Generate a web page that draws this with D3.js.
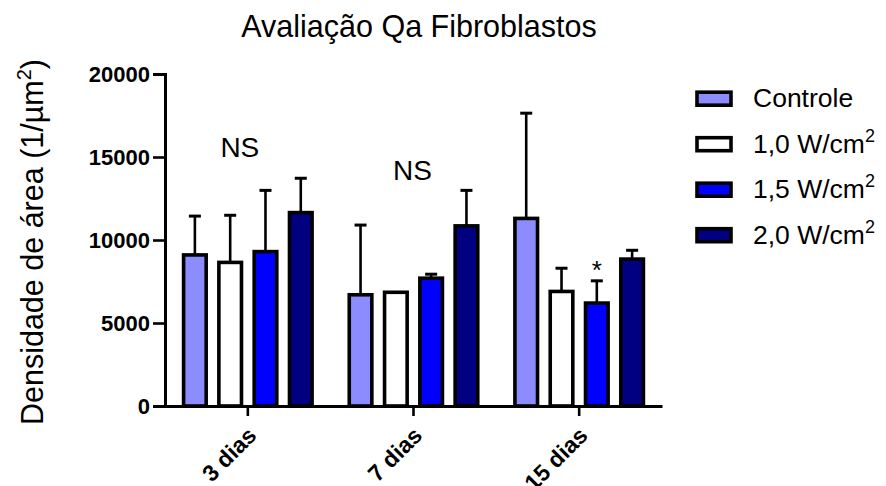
<!DOCTYPE html>
<html>
<head>
<meta charset="utf-8">
<script src="https://cdn.jsdelivr.net/npm/d3@7"></script>
<style>
  body { margin: 0; background: #fff; }
  svg text { font-family: "Liberation Sans", Arial, sans-serif; fill: #000; }
</style>
</head>
<body>
<div class="chart"></div>
<script>
// values
const groups = ["3 dias", "7 dias", "15 dias"];
const series = ["Controle", "1,0", "1,5", "2,0"];
const colors = ["#8c8cff", "#ffffff", "#0000ff", "#000080"];
const means = [
  [9100, 8650, 9300, 11650],
  [6700, 6850, 7700, 10850],
  [11300, 6900, 6200, 8850]
];
const errTop = [
  [11500, 11550, 13050, 13780],
  [10960, 6900, 8000, 13050],
  [17700, 8360, 7600, 9440]
];
const yTicks = [0, 5000, 10000, 15000, 20000];
const notes = [{g: "3 dias", text: "NS", v: 15000, dx: -8}, {g: "7 dias", text: "NS", v: 13600, dx: -1}];

const W = 886, H = 486;
const svg = d3.select('.chart').append('svg')
  .attr('width', W).attr('height', H);

const yScale = d3.scaleLinear().domain([0, 20000]).range([406, 74]);
const xScale = d3.scaleBand().domain(groups).range([165, 662]);
const sub = d3.scaleBand().domain(series).range([-70.6, 70.6])
  .paddingInner(0.36).paddingOuter(0.18);

// bars
const rows = [];
groups.forEach((g, gi) => series.forEach((s, si) => {
  rows.push({g: g, s: s, c: colors[si], v: means[gi][si], e: errTop[gi][si]});
}));

const gx = d => xScale(d.g) + xScale.bandwidth() / 2 + sub(d.s);

// error bars
const eb = svg.append('g').attr('stroke', '#000');
eb.selectAll('line.v').data(rows).enter().append('line')
  .attr('x1', d => gx(d) + sub.bandwidth() / 2)
  .attr('x2', d => gx(d) + sub.bandwidth() / 2)
  .attr('y1', d => yScale(d.v))
  .attr('y2', d => yScale(d.e))
  .attr('stroke-width', 2.6);
eb.selectAll('line.c').data(rows.filter(d => d.e - d.v > 150)).enter().append('line')
  .attr('x1', d => gx(d) + sub.bandwidth() / 2 - 6)
  .attr('x2', d => gx(d) + sub.bandwidth() / 2 + 6)
  .attr('y1', d => yScale(d.e) + 1)
  .attr('y2', d => yScale(d.e) + 1)
  .attr('stroke-width', 3);

svg.append('g').selectAll('rect').data(rows).enter().append('rect')
  .attr('x', d => gx(d))
  .attr('y', d => yScale(d.v))
  .attr('width', sub.bandwidth())
  .attr('height', d => yScale(0) - yScale(d.v))
  .attr('fill', d => d.c)
  .attr('stroke', '#000')
  .attr('stroke-width', 3.6);

// axes
const yAxis = svg.append('g')
  .attr('transform', 'translate(165,0)')
  .call(d3.axisLeft(yScale).tickValues(yTicks).tickSize(12).tickPadding(3).tickFormat(d3.format('d')));
yAxis.selectAll('text').style('font-size', '22px').style('font-weight', 'bold');

const xAxis = svg.append('g')
  .attr('transform', 'translate(0,406)')
  .call(d3.axisBottom(xScale).tickSize(10).tickSizeOuter(0));
xAxis.selectAll('text')
  .style('font-size', '23px').style('font-weight', 'bold')
  .attr('text-anchor', 'end')
  .attr('y', 0).attr('dy', 0)
  .attr('transform', 'translate(10,31) rotate(-45)');

svg.selectAll('.domain').attr('stroke-width', 3);
svg.selectAll('.tick line').attr('stroke-width', 2.6);

// annotations
svg.selectAll('text.note').data(notes).enter().append('text')
  .attr('class', 'note')
  .attr('x', d => xScale(d.g) + xScale.bandwidth() / 2 + d.dx)
  .attr('y', d => yScale(d.v))
  .attr('text-anchor', 'middle')
  .style('font-size', '28px')
  .text(d => d.text);

svg.append('text')
  .attr('x', xScale("15 dias") + xScale.bandwidth() / 2 + sub("1,5") + sub.bandwidth() / 2)
  .attr('y', yScale(errTop[2][2]) - 1)
  .attr('text-anchor', 'middle')
  .style('font-size', '26px')
  .text('*');

// title
svg.append('text')
  .attr('x', 419).attr('y', 37)
  .attr('text-anchor', 'middle')
  .style('font-size', '30.5px')
  .text('Avaliação Qa Fibroblastos');

// y label
const yl = svg.append('text')
  .attr('transform', 'translate(43,242) rotate(-90)')
  .attr('text-anchor', 'middle')
  .style('font-size', '30.5px');
yl.append('tspan').text('Densidade de área (1/µm');
yl.append('tspan').attr('dy', -12).style('font-size', '20px').text('2');
yl.append('tspan').attr('dy', 12).text(')');

// legend
const legend = svg.selectAll('.legend').data(series).enter().append('g')
  .attr('class', 'legend')
  .attr('transform', (d, i) => 'translate(0,' + (98.7 + i * 45.5) + ')');
legend.append('rect')
  .attr('x', 697).attr('y', -6.5)
  .attr('width', 34).attr('height', 13)
  .attr('fill', (d, i) => colors[i])
  .attr('stroke', '#000').attr('stroke-width', 3.6);
const lt = legend.append('text')
  .attr('x', 753).attr('y', 8.5)
  .style('font-size', '26.5px');
lt.append('tspan').text(d => d === 'Controle' ? d : d + ' W/cm');
lt.filter(d => d !== 'Controle').append('tspan')
  .attr('dy', -11).style('font-size', '18px').text('2');
</script>
</body>
</html>
